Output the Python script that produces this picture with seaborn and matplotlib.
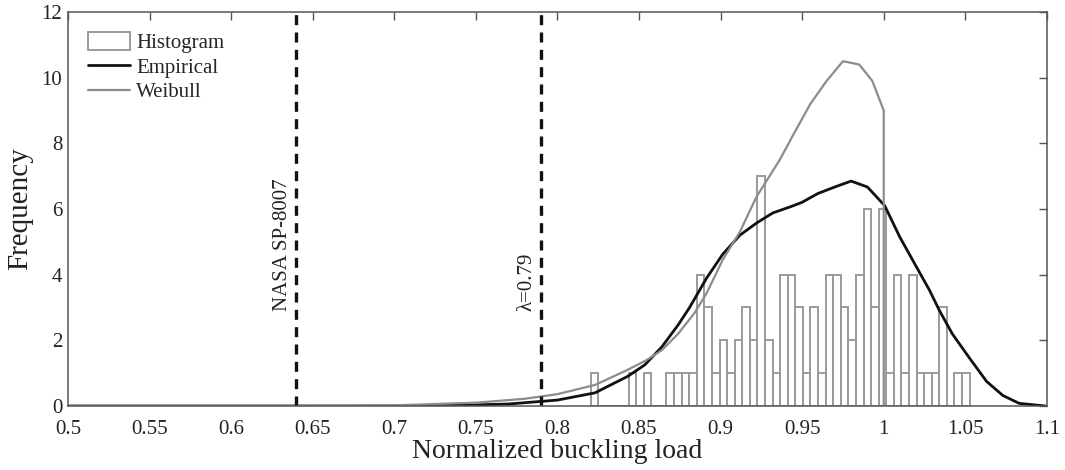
import numpy as np
import pandas as pd
import matplotlib
matplotlib.use("Agg")
import matplotlib.pyplot as plt
import seaborn as sns
from matplotlib.patches import Patch
from matplotlib.lines import Line2D

# ---- data ----
bin_left = 0.8204
bin_width = 0.004645
hist_counts = [1, 0, 0, 0, 0, 1, 0, 1, 0, 0,
               1, 1, 1, 1, 4, 3, 1, 2, 1, 2,
               3, 2, 7, 2, 1, 4, 4, 3, 1, 3,
               1, 4, 4, 3, 2, 4, 6, 3, 6, 1,
               4, 1, 4, 1, 1, 1, 3, 0, 1, 1]

emp_x = [0.50, 0.70, 0.74, 0.77, 0.80, 0.823, 0.843, 0.8535, 0.864, 0.874,
         0.881, 0.8915, 0.9013, 0.9118, 0.922, 0.932, 0.9424, 0.9498, 0.9596, 0.970,
         0.980, 0.990, 1.0006, 1.0098, 1.020, 1.028, 1.034, 1.042, 1.0527, 1.063,
         1.073, 1.083, 1.099]
emp_y = [0.0, 0.0, 0.02, 0.06, 0.18, 0.4, 0.9, 1.25, 1.8, 2.47,
         3.0, 3.9, 4.62, 5.2, 5.57, 5.88, 6.06, 6.2, 6.47, 6.67,
         6.85, 6.67, 6.1, 5.15, 4.24, 3.53, 2.92, 2.2, 1.45, 0.75,
         0.32, 0.08, 0.0]

wb_x = [0.50, 0.65, 0.70, 0.75, 0.78, 0.80, 0.823, 0.843, 0.8547, 0.864,
        0.874, 0.884, 0.8915, 0.9013, 0.9118, 0.922, 0.9363, 0.945, 0.955, 0.965,
        0.975, 0.985, 0.993, 1.0, 1.0]
wb_y = [0.0, 0.0, 0.02, 0.1, 0.22, 0.36, 0.64, 1.1, 1.4, 1.7,
        2.2, 2.83, 3.44, 4.45, 5.3, 6.37, 7.5, 8.3, 9.2, 9.9,
        10.5, 10.4, 9.9, 9.0, 0.0]

ref_lines = [0.64, 0.79]
ref_labels = ["NASA SP-8007", "λ=0.79"]

xticks = [0.5, 0.55, 0.6, 0.65, 0.7, 0.75, 0.8, 0.85, 0.9, 0.95, 1.0, 1.05, 1.1]
xtick_labels = ["0.5", "0.55", "0.6", "0.65", "0.7", "0.75", "0.8", "0.85",
                "0.9", "0.95", "1", "1.05", "1.1"]
yticks = [0, 2, 4, 6, 8, 10, 12]

# ---- plotting ----
sns.set_style("white")
plt.rcParams['font.family'] = ['Liberation Serif', 'DejaVu Serif']

fig = plt.figure(figsize=(10.65, 4.70), dpi=100)
ax = fig.add_axes([0.0638, 0.1362, 0.9192, 0.8383])

n = len(hist_counts)
edges = [float(bin_left + bin_width * i) for i in range(n + 1)]
centers = [(edges[i] + edges[i + 1]) / 2 for i in range(n)]
hist_df = pd.DataFrame({"x": centers, "w": hist_counts})

hist_col = "#9a9a9a"
sns.histplot(data=hist_df, x="x", weights="w", bins=edges, fill=False,
             color=hist_col, linewidth=1.4, ax=ax)

sns.lineplot(x=emp_x, y=emp_y, color="#111111", linewidth=2.0,
             estimator=None, sort=False, ax=ax)
sns.lineplot(x=wb_x, y=wb_y, color="#8c8c8c", linewidth=1.6,
             estimator=None, sort=False, ax=ax)

for xv, lab in zip(ref_lines, ref_labels):
    ax.axvline(xv, color="#111111", linestyle=(0, (3, 2.2)), linewidth=2.4)
    ax.text(xv - 0.0085, 2.9, lab, rotation=90, ha="center", va="bottom",
            fontsize=15, color="#222222")

ax.set_xlim(0.5, 1.1)
ax.set_ylim(0, 12)
ax.set_xticks(xticks)
ax.set_xticklabels(xtick_labels)
ax.set_yticks(yticks)
ax.tick_params(direction="in", top=True, right=True, length=6, width=1,
               colors="#555555", labelcolor="#222222", labelsize=15)
ax.tick_params(axis="x", pad=10)
ax.tick_params(axis="y", pad=4)
for s in ax.spines.values():
    s.set_color("#555555")
    s.set_linewidth(1.1)

ax.set_xlabel("Normalized buckling load", fontsize=20, color="#222222", labelpad=0)
ax.set_ylabel("Frequency", fontsize=21, color="#222222", labelpad=6)

handles = [Patch(facecolor="none", edgecolor=hist_col, linewidth=1.4),
           Line2D([], [], color="#111111", linewidth=2.0),
           Line2D([], [], color="#8c8c8c", linewidth=1.6)]
ax.legend(handles, ["Histogram", "Empirical", "Weibull"], loc="upper left",
          frameon=False, fontsize=15, handlelength=2.0, handleheight=0.9,
          handletextpad=0.3, labelspacing=0.18, borderaxespad=0.3,
          bbox_to_anchor=(0.006, 0.985))

fig.savefig("out.png", dpi=100)
